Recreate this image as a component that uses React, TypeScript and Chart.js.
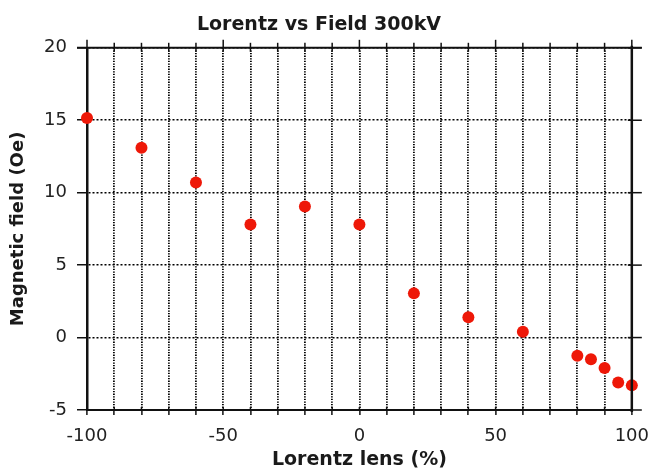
import React, { useEffect, useRef } from "react";
import { Chart, registerables } from "chart.js";

Chart.register(...registerables);

const chartTitle = "Lorentz vs Field 300kV";
const xAxisTitle = "Lorentz lens (%)";
const yAxisTitle = "Magnetic field (Oe)";
const lensPercent = [-100, -80, -60, -40, -20, 0, 20, 40, 60, 80, 85, 90, 95, 100];
const fieldOe = [15.15, 13.1, 10.7, 7.8, 9.05, 7.8, 3.05, 1.4, 0.4, -1.25, -1.5, -2.1, -3.1, -3.3];
const xRange = [-100, 100];
const yRange = [-5, 20];
const xStep = 10;
const xLabelStep = 50;
const yStep = 5;

const framePlugin = {
  id: "frame",
  afterDraw(chart: any) {
    const { ctx, chartArea } = chart;
    const xs = chart.scales.x;
    const ys = chart.scales.y;
    const { left, right, top, bottom } = chartArea;
    ctx.save();
    ctx.strokeStyle = "#111";
    ctx.setLineDash([]);
    ctx.lineWidth = 2;
    ctx.beginPath();
    ctx.moveTo(left - 10, top);
    ctx.lineTo(right + 10, top);
    ctx.stroke();
    ctx.lineWidth = 2.5;
    ctx.beginPath();
    ctx.moveTo(right, top - 2);
    ctx.lineTo(right, bottom + 2);
    ctx.stroke();
    ctx.lineWidth = 1.5;
    for (let v = xRange[0]; v <= xRange[1]; v += xStep) {
      const px = xs.getPixelForValue(v);
      const major = v % xLabelStep === 0;
      ctx.beginPath();
      ctx.moveTo(px, top - (major ? 8 : 5));
      ctx.lineTo(px, top + 4);
      ctx.stroke();
      ctx.beginPath();
      ctx.moveTo(px, bottom - 3);
      ctx.lineTo(px, bottom);
      ctx.stroke();
    }
    for (let v = yRange[0]; v <= yRange[1]; v += yStep) {
      const py = ys.getPixelForValue(v);
      ctx.beginPath();
      ctx.moveTo(right - 4, py);
      ctx.lineTo(right + 10, py);
      ctx.stroke();
    }
    ctx.restore();
  },
};

export default function App() {
  const ref = useRef<HTMLCanvasElement | null>(null);
  useEffect(() => {
    if (!ref.current) return;
    const chart = new Chart(ref.current, {
      type: "scatter",
      data: {
        datasets: [
          {
            data: lensPercent.map((x, i) => ({ x, y: fieldOe[i] })),
            backgroundColor: "rgb(238,24,8)",
            borderWidth: 0,
            pointRadius: 6,
            pointHoverRadius: 6,
            clip: false,
          } as any,
        ],
      },
      options: {
        responsive: false,
        animation: false,
        layout: { padding: { left: 0, right: 22, top: 0, bottom: 0 } },
        plugins: {
          legend: { display: false },
          tooltip: { enabled: false },
          title: {
            display: true,
            text: chartTitle,
            color: "#1a1a1a",
            font: { family: "DejaVu Sans", size: 19, weight: "bold", lineHeight: 1.2 },
            padding: { top: 14, bottom: 11 },
          },
        },
        scales: {
          x: {
            type: "linear",
            min: xRange[0],
            max: xRange[1],
            afterFit: (s: any) => {
              s.height = 60;
            },
            ticks: {
              stepSize: xStep,
              autoSkip: false,
              maxRotation: 0,
              padding: 11,
              color: "#222",
              font: { family: "DejaVu Sans", size: 18 },
              callback: (v: any) => (Number(v) % xLabelStep === 0 ? String(v) : ""),
            },
            grid: {
              color: "#000",
              lineWidth: 1.8,
              tickLength: 5,
              tickColor: "#111",
              tickWidth: 1.5,
              tickBorderDash: [],
            },
            border: { display: true, color: "#111", width: 2, dash: [1.3, 1.3] },
            title: {
              display: true,
              text: xAxisTitle,
              color: "#1a1a1a",
              font: { family: "DejaVu Sans", size: 19, weight: "bold", lineHeight: 1 },
              padding: { top: 0, bottom: 0 },
            },
          },
          y: {
            type: "linear",
            min: yRange[0],
            max: yRange[1],
            afterFit: (s: any) => {
              s.width = 87;
            },
            ticks: {
              stepSize: yStep,
              padding: 10,
              color: "#222",
              font: { family: "DejaVu Sans", size: 18 },
            },
            grid: {
              color: "#000",
              lineWidth: 1.5,
              tickLength: 10,
              tickColor: "#111",
              tickWidth: 1.5,
              tickBorderDash: [],
            },
            border: { display: true, color: "#111", width: 2.5, dash: [2, 2] },
            title: {
              display: true,
              text: yAxisTitle,
              color: "#1a1a1a",
              font: { family: "DejaVu Sans", size: 18, weight: "bold", lineHeight: 1.2 },
              padding: { top: 8, bottom: 0 },
            },
          },
        },
      },
      plugins: [framePlugin],
    } as any);
    return () => chart.destroy();
  }, []);
  return (
    <div style={{ position: "absolute", left: 0, top: 0, width: 660, height: 470, background: "#fff" }}>
      <canvas ref={ref} width={660} height={470} style={{ display: "block" }} />
    </div>
  );
}
